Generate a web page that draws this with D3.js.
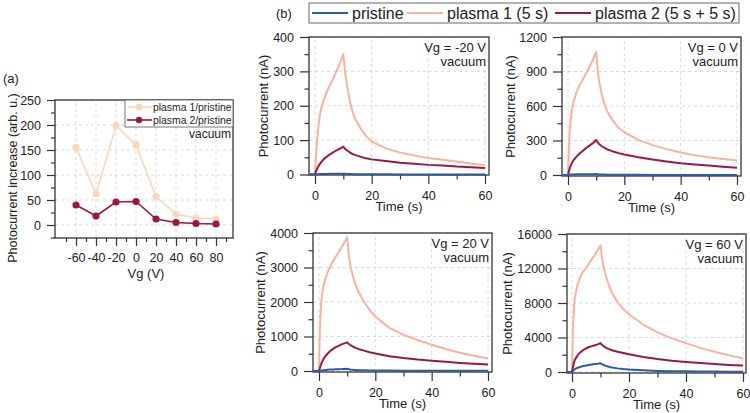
<!DOCTYPE html>
<html><head><meta charset="utf-8">
<script src="https://cdn.jsdelivr.net/npm/d3@7"></script>
<style>
body{margin:0;background:#fff;}
svg{font-family:"Liberation Sans",Arial,sans-serif;}
</style></head>
<body><svg id="c" width="750" height="413"></svg>
<script>
// ---------- DATA ----------
// panel (a)
const vgValues = [-60, -40, -20, 0, 20, 40, 60, 80];
const plasma1Ratio = [155, 62, 199, 160, 57, 22, 14, 12];
const plasma2Ratio = [40, 18, 46, 47, 12, 5, 3, 2];
const aXTicks = [-60, -40, -20, 0, 20, 40, 60, 80];
const aYTicks = [0, 50, 100, 150, 200, 250];

// panel (b) time base (s)
const T = [-2, 0, 0.3, 0.7, 1, 1.5, 2, 3, 4, 5, 6, 7, 8, 9, 10, 10.5, 11, 12, 13, 14, 16, 18, 20, 25, 30, 35, 40, 45, 50, 55, 60];
// Vg = -20 V
const pristineM20 = [0, 0, 0.5, 0.8, 1, 1.2, 1.5, 1.7, 1.8, 2, 2, 2.2, 2.3, 2.4, 2.5, 2, 1.5, 1.3, 1.1, 1, 0.8, 0.6, 0.5, 0.4, 0.3, 0.2, 0.2, 0.1, 0.1, 0, 0];
const plasma1M20 = [0, 0, 45, 95, 125, 160, 185, 215, 237, 255, 272, 290, 308, 328, 350, 305, 275, 225, 190, 165, 135, 112, 96, 76, 64, 55, 48, 43, 38, 32, 27];
const plasma2M20 = [0, 0, 8, 16, 21, 28, 34, 44, 51, 57, 62, 67, 72, 76, 81, 76, 72, 66, 61, 57, 52, 47, 44, 39, 34, 31, 28, 26, 23, 21, 19];
// Vg = 0 V
const pristine0 = [0, 0, 2, 3, 4, 4.5, 5, 5.5, 5.8, 6, 6.5, 7, 7.3, 7.6, 8, 6.5, 5, 4, 3.5, 3, 2.6, 2.2, 2, 1.5, 1, 0.8, 0.6, 0.4, 0.3, 0.2, 0];
const plasma10 = [0, 0, 230, 420, 500, 580, 640, 720, 775, 820, 865, 910, 960, 1010, 1070, 920, 820, 700, 610, 550, 470, 410, 370, 305, 260, 225, 195, 172, 155, 140, 127];
const plasma20 = [0, 0, 30, 65, 85, 110, 130, 160, 185, 205, 225, 245, 262, 280, 305, 285, 270, 250, 235, 222, 205, 190, 178, 155, 135, 118, 103, 92, 82, 72, 63];
// Vg = 20 V
const pristine20 = [0, 0, 5, 10, 15, 20, 25, 35, 40, 45, 48, 52, 55, 60, 65, 55, 45, 35, 30, 25, 20, 17, 15, 12, 10, 9, 8, 7, 6, 5, 5];
const plasma120 = [0, 0, 1200, 1900, 2150, 2400, 2600, 2850, 3030, 3180, 3320, 3450, 3580, 3720, 3880, 3400, 3100, 2750, 2500, 2300, 2000, 1770, 1580, 1250, 1050, 900, 760, 640, 530, 440, 360];
const plasma220 = [0, 0, 80, 180, 250, 330, 400, 500, 580, 640, 690, 730, 770, 800, 830, 790, 760, 710, 670, 640, 590, 545, 505, 430, 375, 330, 295, 265, 235, 210, 185];
// Vg = 60 V
const pristine60 = [0, 0, 100, 250, 330, 420, 500, 610, 690, 760, 820, 870, 920, 960, 1020, 900, 820, 700, 600, 520, 420, 340, 280, 190, 130, 100, 75, 60, 45, 35, 25];
const plasma160 = [0, 0, 5000, 7500, 8500, 9500, 10200, 11100, 11700, 12100, 12600, 13100, 13600, 14100, 14700, 13300, 12300, 11000, 10000, 9200, 8100, 7300, 6700, 5500, 4600, 3900, 3350, 2800, 2350, 1950, 1600];
const plasma260 = [0, 0, 500, 1100, 1400, 1700, 1950, 2300, 2550, 2750, 2900, 3000, 3100, 3200, 3350, 3150, 3000, 2800, 2650, 2520, 2350, 2200, 2050, 1750, 1500, 1300, 1150, 1030, 920, 820, 740];

const timeTicks = [0, 20, 40, 60];
const yTicksM20 = [0, 100, 200, 300, 400];
const yTicks0 = [0, 300, 600, 900, 1200];
const yTicks20 = [0, 1000, 2000, 3000, 4000];
const yTicks60 = [0, 4000, 8000, 12000, 16000];
const seriesNames = ["pristine", "plasma 1 (5 s)", "plasma 2 (5 s + 5 s)"];

// ---------- STYLE ----------
const C_PRI = "#2b5aab", C_P1 = "#f8b3a0", C_P2 = "#9b1746";
const C_P1A = "#fcd6b8";
const AX = "#333";
const GRID = "#cfcfcf";
const svg = d3.select("#c");
const fmt = d => String(d);

function frameAxes(g, x, y, xTicks, xMinor, yTicks, yMinor, opt) {
  const [x0, x1] = x.range(), [y0, y1] = y.range();
  g.append("g").selectAll("line").data(xTicks).join("line")
    .attr("x1", d => x(d)).attr("x2", d => x(d)).attr("y1", y0).attr("y2", y1)
    .attr("stroke", GRID).attr("stroke-dasharray", "3,3").attr("stroke-width", 0.8);
  g.append("g").selectAll("line").data(yTicks).join("line")
    .attr("y1", d => y(d)).attr("y2", d => y(d)).attr("x1", x0).attr("x2", x1)
    .attr("stroke", GRID).attr("stroke-dasharray", "3,3").attr("stroke-width", 0.8);
  const xa = g.append("g").attr("transform", `translate(0,${y0})`)
    .call(d3.axisBottom(x).tickValues(xTicks).tickSize(opt.tick).tickPadding(opt.xpad).tickFormat(fmt));
  const xm = g.append("g").attr("transform", `translate(0,${y0})`)
    .call(d3.axisBottom(x).tickValues(xMinor).tickSize(opt.tick / 2).tickFormat(""));
  const ya = g.append("g").attr("transform", `translate(${x0},0)`)
    .call(d3.axisLeft(y).tickValues(yTicks).tickSize(opt.tick).tickPadding(opt.ypad).tickFormat(fmt));
  const ym = g.append("g").attr("transform", `translate(${x0},0)`)
    .call(d3.axisLeft(y).tickValues(yMinor).tickSize(opt.tick / 2).tickFormat(""));
  [xa, xm, ya, ym].forEach(a => {
    a.select(".domain").remove();
    a.selectAll("line").attr("stroke", AX).attr("stroke-width", 1.2);
    a.selectAll("text").attr("fill", "#222").style("font-size", opt.font + "px")
      .style("font-family", '"Liberation Sans",Arial,sans-serif');
  });
  g.append("rect").attr("x", x0).attr("y", y1).attr("width", x1 - x0).attr("height", y0 - y1)
    .attr("fill", "none").attr("stroke", AX).attr("stroke-width", 1.3);
}

// ---------- PANEL (a) ----------
{
  const g = svg.append("g");
  const x = d3.scaleLinear().domain([-81, 97]).range([55, 233]);
  const y = d3.scaleLinear().domain([-26, 250]).range([238, 100]);
  frameAxes(g, x, y, aXTicks, [-70, -50, -30, -10, 10, 30, 50, 70, 90],
    aYTicks, [-25, 25, 75, 125, 175, 225], {tick: 8, xpad: 7, ypad: 6, font: 12.5});
  const line = d3.line().x((d, i) => x(vgValues[i])).y(d => y(d));
  [[plasma1Ratio, C_P1A], [plasma2Ratio, C_P2]].forEach(([arr, col]) => {
    g.append("path").attr("d", line(arr)).attr("fill", "none").attr("stroke", col).attr("stroke-width", 1.6);
    g.append("g").selectAll("circle").data(arr).join("circle")
      .attr("cx", (d, i) => x(vgValues[i])).attr("cy", d => y(d)).attr("r", 3.6).attr("fill", col);
  });
  g.append("rect").attr("x", 125).attr("y", 100).attr("width", 108).attr("height", 27)
    .attr("fill", "#fff").attr("stroke", "#555").attr("stroke-width", 0.8);
  [["plasma 1/pristine", C_P1A, 107], ["plasma 2/pristine", C_P2, 120]].forEach(([t, col, yy]) => {
    g.append("line").attr("x1", 127).attr("x2", 152).attr("y1", yy).attr("y2", yy).attr("stroke", col).attr("stroke-width", 1.6);
    g.append("circle").attr("cx", 139).attr("cy", yy).attr("r", 3.2).attr("fill", col);
    g.append("text").attr("x", 153).attr("y", yy + 3.7).text(t).style("font-size", "10.4px").attr("fill", "#222");
  });
  g.append("text").attr("x", 231).attr("y", 138).attr("text-anchor", "end").text("vacuum").style("font-size", "12px").attr("fill", "#222");
  g.append("text").attr("transform", "translate(17,178) rotate(-90)").attr("text-anchor", "middle")
    .text("Photocurrent increase (arb. u.)").style("font-size", "12.5px").attr("fill", "#222");
  g.append("text").attr("x", 146).attr("y", 278).attr("text-anchor", "middle").text("Vg (V)").style("font-size", "13px").attr("fill", "#222");
  g.append("text").attr("x", 3).attr("y", 83).text("(a)").style("font-size", "13px").attr("fill", "#222");
}

// ---------- PANEL (b) ----------
svg.append("text").attr("x", 276).attr("y", 18).text("(b)").style("font-size", "13px").attr("fill", "#222");
{
  const lg = svg.append("g");
  lg.append("rect").attr("x", 309).attr("y", 3).attr("width", 430).attr("height", 20)
    .attr("fill", "#fff").attr("stroke", "#666").attr("stroke-width", 1);
  const items = [[seriesNames[0], C_PRI, 312], [seriesNames[1], C_P1, 407], [seriesNames[2], C_P2, 555]];
  items.forEach(([t, col, xx]) => {
    lg.append("line").attr("x1", xx).attr("x2", xx + 36).attr("y1", 13).attr("y2", 13).attr("stroke", col).attr("stroke-width", 2);
    lg.append("text").attr("x", xx + 40).attr("y", 19).text(t).style("font-size", "16px").attr("fill", "#222");
  });
}

const panels = [
  {frame: [309, 489, 37, 175], zero: 174.5, top: 400, ticks: yTicksM20, step: 50, label: "Vg = -20 V", data: [pristineM20, plasma1M20, plasma2M20], tx: 315, t60: 485, ylab: 41},
  {frame: [562, 741, 37, 176], zero: 175, top: 1200, ticks: yTicks0, step: 150, label: "Vg = 0 V", data: [pristine0, plasma10, plasma20], tx: 568, t60: 737, ylab: 47},
  {frame: [313, 492, 233, 372], zero: 371, top: 4000, ticks: yTicks20, step: 500, label: "Vg = 20 V", data: [pristine20, plasma120, plasma220], tx: 319, t60: 488, ylab: 48},
  {frame: [567, 746, 234, 373], zero: 372, top: 16000, ticks: yTicks60, step: 2000, label: "Vg = 60 V", data: [pristine60, plasma160, plasma260], tx: 572, t60: 743, ylab: 55}
];

panels.forEach(p => {
  const [fl, fr, ft, fb] = p.frame;
  const pxPerS = (p.t60 - p.tx) / 60;
  const x = d3.scaleLinear().domain([(fl - p.tx) / pxPerS, (fr - p.tx) / pxPerS]).range([fl, fr]);
  const pxPerU = (p.zero - ft) / p.top;
  const y = d3.scaleLinear().domain([-(fb - p.zero) / pxPerU, p.top]).range([fb, ft]);
  const g = svg.append("g");
  const yMinor = p.ticks.slice(0, -1).map(v => v + p.step);
  frameAxes(g, x, y, timeTicks, [10, 30, 50], p.ticks, yMinor, {tick: 9, xpad: 7, ypad: 6, font: 12.5});
  const line = d3.line().x((d, i) => x(T[i])).y(d => y(d));
  [[p.data[1], C_P1], [p.data[2], C_P2], [p.data[0], C_PRI]].forEach(([arr, col]) => {
    g.append("path").attr("d", line(arr)).attr("fill", "none").attr("stroke", col).attr("stroke-width", 2).attr("stroke-linejoin", "round");
  });
  g.append("text").attr("x", fr - 3).attr("y", ft + 15).attr("text-anchor", "end").text(p.label).style("font-size", "13px").attr("fill", "#222");
  g.append("text").attr("x", fr - 3).attr("y", ft + 29).attr("text-anchor", "end").text("vacuum").style("font-size", "13px").attr("fill", "#222");
  g.append("text").attr("transform", `translate(${fl - p.ylab},${(ft + fb) / 2}) rotate(-90)`).attr("text-anchor", "middle")
    .text("Photocurrent (nA)").style("font-size", "13px").attr("fill", "#222");
  g.append("text").attr("x", (fl + fr) / 2).attr("y", fb + 36).attr("text-anchor", "middle").text("Time (s)").style("font-size", "13px").attr("fill", "#222");
});
</script></body></html>
